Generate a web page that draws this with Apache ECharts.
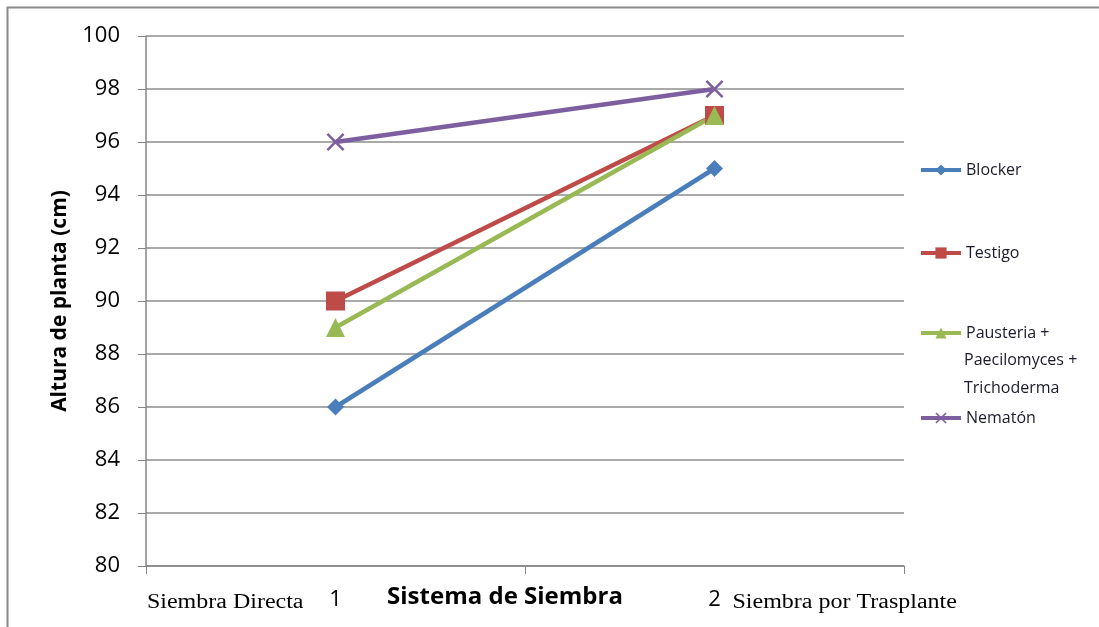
<!DOCTYPE html>
<html><head><meta charset="utf-8">
<script src="https://cdn.jsdelivr.net/npm/echarts@6/dist/echarts.min.js"></script>
<style>html,body{margin:0;padding:0;background:#fff}#c{width:1099px;height:627px}</style>
</head><body><div id="c"></div>
<script>
var categories = ['1', '2'];
var categoryNotes = ['Siembra Directa', 'Siembra por Trasplante'];
var blocker = [86, 95];
var testigo = [90, 97];
var pausteria = [89, 97];
var nematon = [96, 98];
var seriesNames = ['Blocker', 'Testigo', 'Pausteria +\nPaecilomyces +\nTrichoderma', 'Nematón'];
var yMin = 80, yMax = 100, yStep = 2;

var colors = ['#4A7EBB', '#BE4B48', '#98B954', '#7D5FA0'];
var xPath = 'path://M0,1L1,0L5,4L9,0L10,1L6,5L10,9L9,10L5,6L1,10L0,9L4,5Z';
var symbols = ['diamond', 'rect', 'triangle', xPath];
var symSizes = [17, 19, 19, 18];
var dataSets = [blocker, testigo, pausteria, nematon];
var legendTops = [162, 245, 325, 410];

var chart = echarts.init(document.getElementById('c'));
var series = dataSets.map(function (d, i) {
  return {
    name: seriesNames[i], type: 'line', data: d,
    symbol: symbols[i], symbolSize: symSizes[i], showSymbol: true,
    lineStyle: { color: colors[i], width: 4.5 },
    itemStyle: { color: colors[i] },
    emphasis: { disabled: true }, animation: false
  };
});
var legends = seriesNames.map(function (n, i) {
  return {
    show: true, orient: 'vertical', left: 919, top: legendTops[i], padding: 0,
    data: [n], itemWidth: 40, itemHeight: 14, itemGap: 0,
    selectedMode: false,
    lineStyle: { width: 4 },
    formatter: function (name) { return name.split('\n')[0]; },
    textStyle: { fontFamily: 'Open Sans', fontSize: 16, color: '#1a1a2a' }
  };
});

chart.setOption({
  animation: false,
  color: colors,
  grid: { left: 146, top: 36, right: 195, bottom: 61, containLabel: false, outerBoundsMode: 'none' },
  legend: legends,
  xAxis: {
    type: 'category', data: categories, boundaryGap: true,
    axisLine: { lineStyle: { color: '#868686', width: 1.5 } },
    axisTick: { show: true, length: 8, lineStyle: { color: '#868686' } },
    axisLabel: { fontFamily: 'Open Sans', fontSize: 22, color: '#000', margin: 23 },
    name: 'Sistema de Siembra', nameLocation: 'middle', nameGap: 19, nameMoveOverlap: false,
    nameTextStyle: { fontFamily: 'Open Sans', fontWeight: 'bold', fontSize: 24, color: '#000', padding: [0, 40, 0, 0] }
  },
  yAxis: {
    type: 'value', min: yMin, max: yMax, interval: yStep,
    axisLine: { show: true, lineStyle: { color: '#868686', width: 1.5 } },
    axisTick: { show: true, length: 8, inside: false, lineStyle: { color: '#868686' } },
    splitLine: { lineStyle: { color: '#8C8C8C', width: 1.5 } },
    axisLabel: { fontFamily: 'Open Sans', fontSize: 22, color: '#000', margin: 26 },
    name: 'Altura de planta (cm)', nameLocation: 'middle', nameGap: 75, nameRotate: 90,
    nameTextStyle: { fontFamily: 'Open Sans', fontWeight: 'bold', fontSize: 21, color: '#000' }
  },
  series: series
});

var p1 = chart.convertToPixel({ xAxisIndex: 0 }, categories[0]);
var p2 = chart.convertToPixel({ xAxisIndex: 0 }, categories[1]);
var yb = chart.convertToPixel({ yAxisIndex: 0 }, yMin);
var extraLines = seriesNames[2].split('\n').slice(1);
var graphics = [
  { type: 'rect', shape: { x: 7.5, y: 7.5, width: 1200, height: 700 }, style: { fill: null, stroke: '#898989', lineWidth: 2 }, silent: true },
  { type: 'text', x: p1 - 32, y: yb + 37, scaleX: 1.2, style: { text: categoryNotes[0], align: 'right', verticalAlign: 'middle', font: '20px "Liberation Serif"', fill: '#000' } },
  { type: 'text', x: p2 + 18, y: yb + 37, scaleX: 1.2, style: { text: categoryNotes[1], align: 'left', verticalAlign: 'middle', font: '20px "Liberation Serif"', fill: '#000' } }
];
extraLines.forEach(function (t, k) {
  graphics.push({ type: 'text', x: 964, y: legendTops[2] + 7 + 28 * (k + 1), style: { text: t, align: 'left', verticalAlign: 'middle', font: '16px "Open Sans"', fill: '#1a1a2a' } });
});
chart.setOption({ graphic: graphics });
</script></body></html>
